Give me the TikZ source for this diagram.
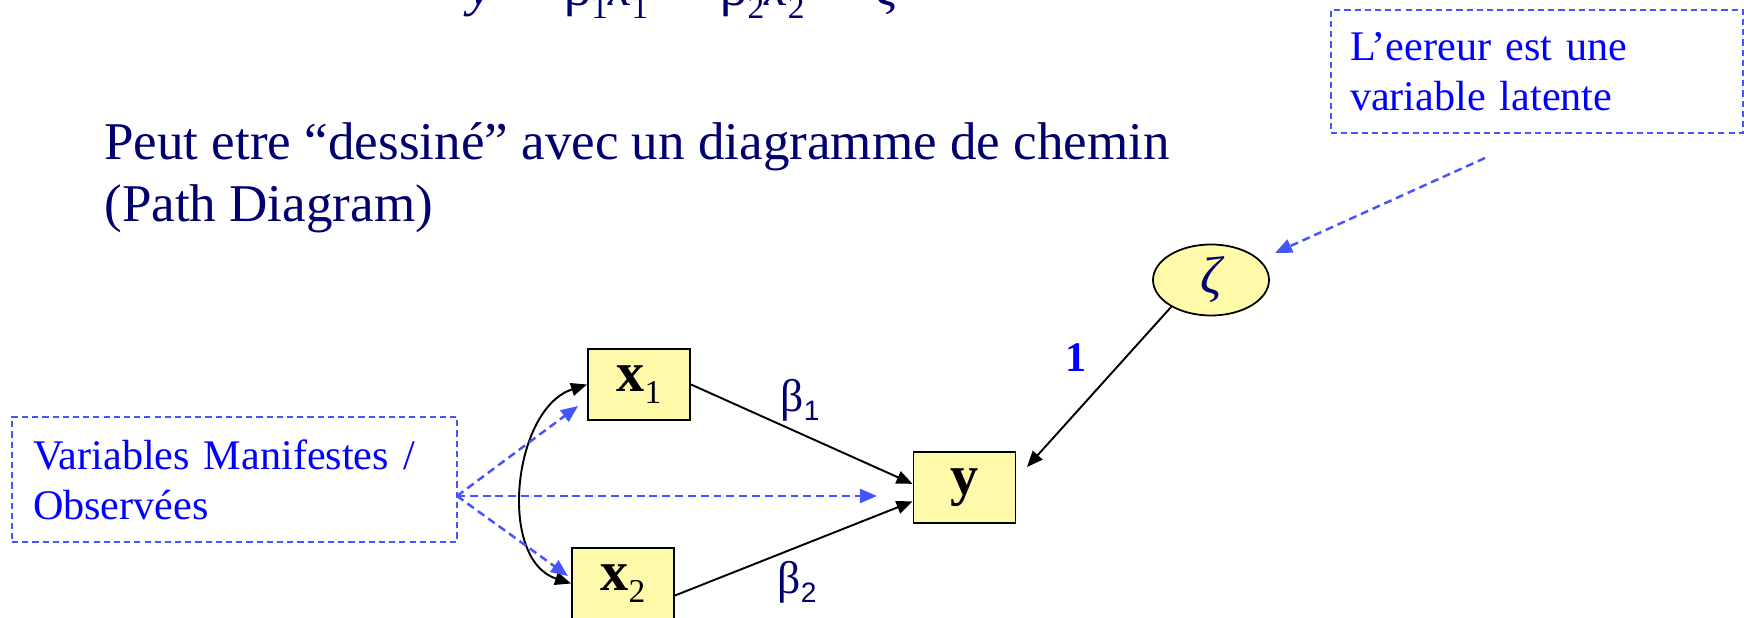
\documentclass[tikz,border=0pt]{standalone}
\usepackage{fontspec}
\setmainfont{Liberation Serif}
\newfontfamily\sansfam{Liberation Sans}
\usetikzlibrary{arrows.meta, shapes.geometric}
\definecolor{navy}{RGB}{0,0,110}
\definecolor{pblue}{RGB}{0,0,255}
\definecolor{dblue}{RGB}{68,84,255}
\definecolor{pyellow}{RGB}{255,250,170}
\newcommand{\lowsub}[1]{\raisebox{-7pt}{\mdseries\fontsize{19}{19}\selectfont #1}}
\newcommand{\lowsubsf}[1]{\raisebox{-5pt}{\sansfam\fontsize{16}{16}\selectfont #1}}
\newcommand{\opsp}[1]{\hspace{0.4em}#1\hspace{0.4em}}

\begin{document}
\begin{tikzpicture}[
  obs/.style={rectangle, draw=black, line width=1.1pt, fill=pyellow,
              minimum width=2.04cm, minimum height=1.42cm, inner sep=0pt,
              font=\fontsize{32}{32}\selectfont\bfseries},
  latn/.style={ellipse, draw=black, line width=1pt, fill=pyellow,
               minimum width=2.32cm, minimum height=1.42cm, inner sep=0pt,
               text=navy, font=\fontsize{30}{30}\selectfont\itshape},
  note/.style={rectangle, draw=dblue, line width=1.1pt, dash pattern=on 3.5pt off 2.3pt,
               text=pblue, align=left, font=\fontsize{24}{28.5}\selectfont},
  e/.style={-{Triangle[length=3.2mm, width=2.6mm]}, draw=black, line width=1.1pt},
  e2/.style={e, {Triangle[length=3.2mm, width=2.6mm]}-{Triangle[length=3.2mm, width=2.6mm]}},
  eb/.style={-{Triangle[length=3.4mm, width=2.8mm]}, draw=dblue, line width=1.4pt,
             dash pattern=on 4.5pt off 2.8pt},
  lbl/.style={text=navy, inner sep=0pt, font=\fontsize{26}{26}\selectfont},
  hd/.style={text=navy, inner sep=0pt, align=left, font=\fontsize{30.2}{35.3}\selectfont}
]
\useasboundingbox (0,0) rectangle (34.88,12.36);

% ---------------------------------------------- text at the top
\node[hd, anchor=base west] (eq) at (9.36, 12.24)
  {\textit{y}\opsp{=}β\lowsub{1}\textit{x}\lowsub{1}\opsp{+}β\lowsub{2}\textit{x}\lowsub{2}\opsp{+}\textit{ζ}};
% base of a two-line node is the last line
\node[hd, anchor=base west] (intro) at (2.08, 7.92)
  {Peut etre “dessiné” avec un diagramme de chemin\\(Path Diagram)};

% ---------------------------------------------- the path diagram
\node[obs] (x1) at (12.78, 4.67) {x\lowsub{1}};
\node[obs] (x2) at (12.46, 0.69) {x\lowsub{2}};
\node[obs] (y)  at (19.29, 2.61) {y};
\node[latn] (zeta) at (24.22, 6.76) {ζ};

\coordinate (yin) at (20.54, 3.02);

\draw[e]  (x1.east) -- (y.176);
\draw[e]  (x2.347) -- (y.195);
\draw[e]  (zeta.214) -- (yin);
\draw[e2] (x1.west) to[out=198, in=162] (x2.west);

\node[lbl] (b1) at (16.00, 4.36) {β\lowsubsf{1}};
\node[lbl] (b2) at (15.94, 0.72) {β\lowsubsf{2}};
\node[lbl, text=pblue, font=\fontsize{24}{24}\selectfont\bfseries] (one) at (21.52, 5.20) {1};

% ---------------------------------------------- comments in dashed boxes
\node[note, text width=8.06cm, inner xsep=0.42cm, minimum height=2.5cm] (manif) at (4.69, 2.77)
  {Variables Manifestes /\\Observées};
\node[note, text width=7.48cm, inner xsep=0.38cm, minimum height=2.46cm] (err) at (30.74, 10.93)
  {L’eereur est une\\variable latente};

\coordinate (src)    at (9.14, 2.44);
\coordinate (x1in)   at (11.56, 4.24);
\coordinate (x2in)   at (11.36, 0.84);
\coordinate (yobs)   at (17.54, 2.44);
\coordinate (errout) at (29.70, 9.20);
\coordinate (zin)    at (25.50, 7.30);

\draw[eb] (src) -- (x1in);
\draw[eb] (src) -- (yobs);
\draw[eb] (src) -- (x2in);
\draw[eb] (errout) -- (zin);

\end{tikzpicture}
\end{document}
